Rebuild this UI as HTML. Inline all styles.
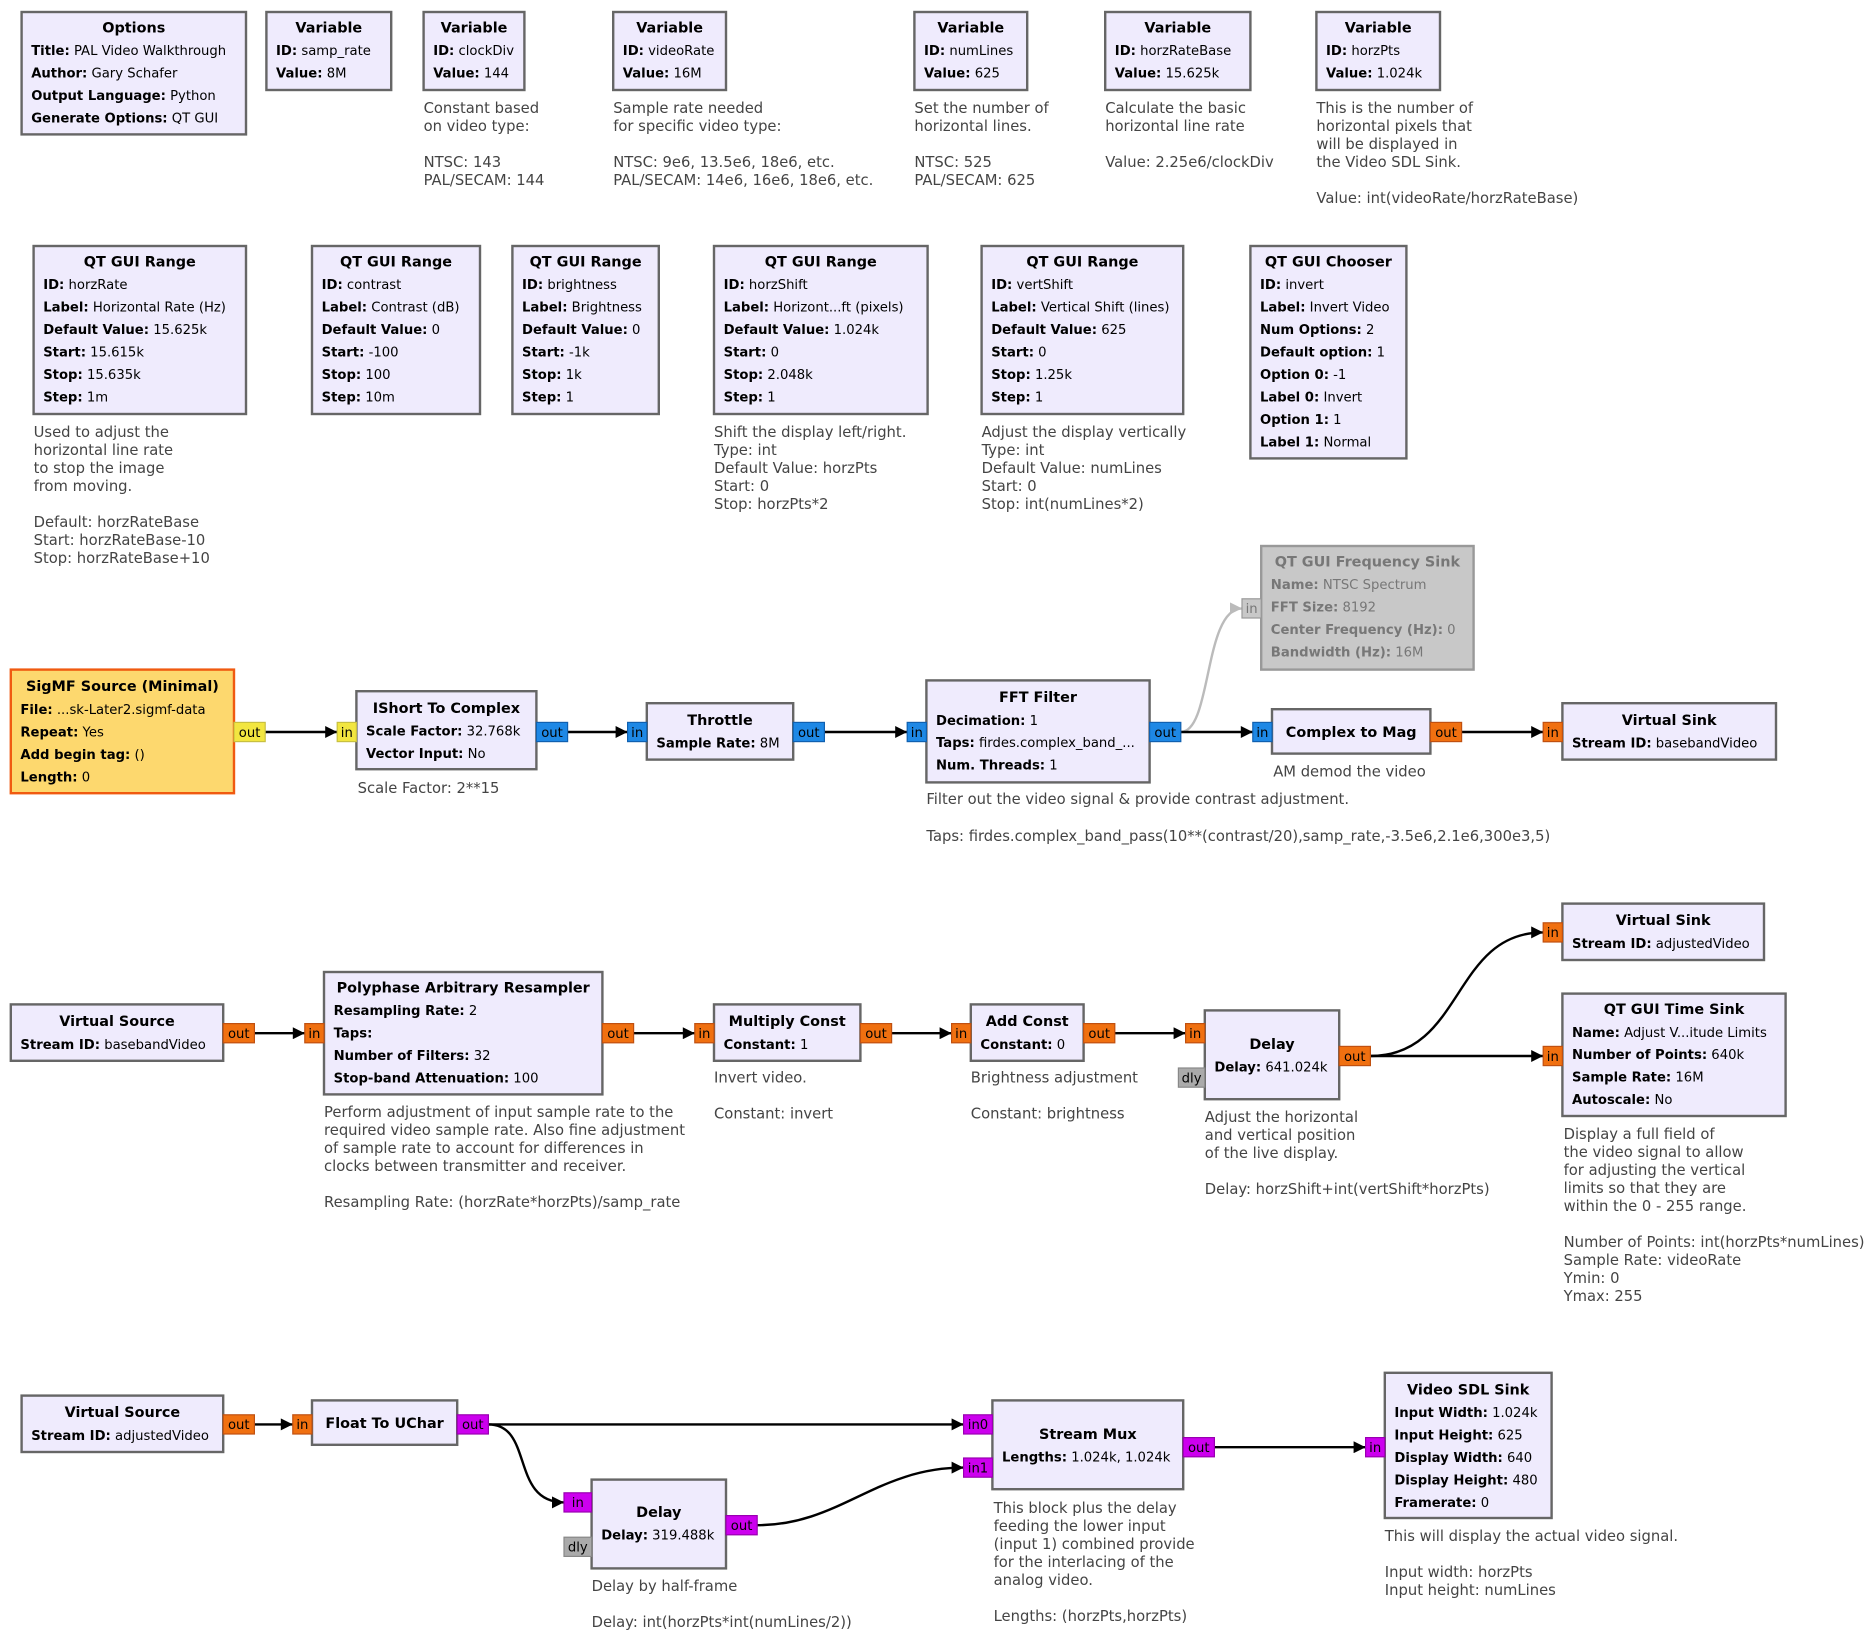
<!DOCTYPE html>
<html><head><meta charset="utf-8"><style>
html,body{margin:0;padding:0;background:#fff;}
svg{display:block;}
text{font-family:"DejaVu Sans","Liberation Sans",sans-serif;font-size:11px;fill:#000;}
.t{font-weight:bold;font-size:12px;text-anchor:middle;}
.b{font-weight:bold;}
.c{fill:#444;font-size:12.3px;}
.bx{fill:#efebfd;stroke:#666;stroke-width:2;}
.p{text-anchor:middle;font-size:11px;}
.w{stroke:#000;stroke-width:2;fill:none;}
.g text{fill:#777;}
</style></head><body>
<svg width="1872" height="1636" viewBox="0 0 1560 1363.33" xmlns="http://www.w3.org/2000/svg">
<defs>
<marker id="a" viewBox="0 0 10 10" refX="10" refY="5" markerWidth="11" markerHeight="10" markerUnits="userSpaceOnUse" orient="auto"><path d="M0,0L10,5L0,10z" fill="#000"/></marker>
<marker id="ag" viewBox="0 0 10 10" refX="10" refY="5" markerWidth="11" markerHeight="10" markerUnits="userSpaceOnUse" orient="auto"><path d="M0,0L10,5L0,10z" fill="#bbb"/></marker>
</defs>
<style>.w{marker-end:url(#a);} </style>

<!-- Options -->
<rect class="bx" x="18" y="10" width="187" height="102"/>
<text class="t" x="111.5" y="27">Options</text>
<text x="26" y="46"><tspan class="b">Title:</tspan> PAL Video Walkthrough</text>
<text x="26" y="64.7"><tspan class="b">Author:</tspan> Gary Schafer</text>
<text x="26" y="83.4"><tspan class="b">Output Language:</tspan> Python</text>
<text x="26" y="102"><tspan class="b">Generate Options:</tspan> QT GUI</text>

<rect class="bx" x="222" y="10" width="104" height="65"/>
<text class="t" x="274" y="27">Variable</text>
<text x="230" y="46"><tspan class="b">ID:</tspan> samp_rate</text>
<text x="230" y="64.7"><tspan class="b">Value:</tspan> 8M</text>

<rect class="bx" x="353" y="10" width="84" height="65"/>
<text class="t" x="395" y="27">Variable</text>
<text x="361" y="46"><tspan class="b">ID:</tspan> clockDiv</text>
<text x="361" y="64.7"><tspan class="b">Value:</tspan> 144</text>
<text class="c" x="353" y="94">Constant based</text>
<text class="c" x="353" y="109">on video type:</text>
<text class="c" x="353" y="139">NTSC: 143</text>
<text class="c" x="353" y="154">PAL/SECAM: 144</text>

<rect class="bx" x="511" y="10" width="94" height="65"/>
<text class="t" x="558" y="27">Variable</text>
<text x="519" y="46"><tspan class="b">ID:</tspan> videoRate</text>
<text x="519" y="64.7"><tspan class="b">Value:</tspan> 16M</text>
<text class="c" x="511" y="94">Sample rate needed</text>
<text class="c" x="511" y="109">for specific video type:</text>
<text class="c" x="511" y="139">NTSC: 9e6, 13.5e6, 18e6, etc.</text>
<text class="c" x="511" y="154">PAL/SECAM: 14e6, 16e6, 18e6, etc.</text>

<rect class="bx" x="762" y="10" width="94" height="65"/>
<text class="t" x="809" y="27">Variable</text>
<text x="770" y="46"><tspan class="b">ID:</tspan> numLines</text>
<text x="770" y="64.7"><tspan class="b">Value:</tspan> 625</text>
<text class="c" x="762" y="94">Set the number of</text>
<text class="c" x="762" y="109">horizontal lines.</text>
<text class="c" x="762" y="139">NTSC: 525</text>
<text class="c" x="762" y="154">PAL/SECAM: 625</text>

<rect class="bx" x="921" y="10" width="121" height="65"/>
<text class="t" x="981.5" y="27">Variable</text>
<text x="929" y="46"><tspan class="b">ID:</tspan> horzRateBase</text>
<text x="929" y="64.7"><tspan class="b">Value:</tspan> 15.625k</text>
<text class="c" x="921" y="94">Calculate the basic</text>
<text class="c" x="921" y="109">horizontal line rate</text>
<text class="c" x="921" y="139">Value: 2.25e6/clockDiv</text>

<rect class="bx" x="1097" y="10" width="103" height="65"/>
<text class="t" x="1148.5" y="27">Variable</text>
<text x="1105" y="46"><tspan class="b">ID:</tspan> horzPts</text>
<text x="1105" y="64.7"><tspan class="b">Value:</tspan> 1.024k</text>
<text class="c" x="1097" y="94">This is the number of</text>
<text class="c" x="1097" y="109">horizontal pixels that</text>
<text class="c" x="1097" y="124">will be displayed in</text>
<text class="c" x="1097" y="139">the Video SDL Sink.</text>
<text class="c" x="1097" y="169">Value: int(videoRate/horzRateBase)</text>

<!-- QT GUI Range row -->
<rect class="bx" x="28" y="205" width="177" height="140"/>
<text class="t" x="116.5" y="222">QT GUI Range</text>
<text x="36" y="241"><tspan class="b">ID:</tspan> horzRate</text>
<text x="36" y="259.7"><tspan class="b">Label:</tspan> Horizontal Rate (Hz)</text>
<text x="36" y="278.4"><tspan class="b">Default Value:</tspan> 15.625k</text>
<text x="36" y="297.1"><tspan class="b">Start:</tspan> 15.615k</text>
<text x="36" y="315.8"><tspan class="b">Stop:</tspan> 15.635k</text>
<text x="36" y="334.5"><tspan class="b">Step:</tspan> 1m</text>
<text class="c" x="28" y="364">Used to adjust the</text>
<text class="c" x="28" y="379">horizontal line rate</text>
<text class="c" x="28" y="394">to stop the image</text>
<text class="c" x="28" y="409">from moving.</text>
<text class="c" x="28" y="439">Default: horzRateBase</text>
<text class="c" x="28" y="454">Start: horzRateBase-10</text>
<text class="c" x="28" y="469">Stop: horzRateBase+10</text>

<rect class="bx" x="260" y="205" width="140" height="140"/>
<text class="t" x="330" y="222">QT GUI Range</text>
<text x="268" y="241"><tspan class="b">ID:</tspan> contrast</text>
<text x="268" y="259.7"><tspan class="b">Label:</tspan> Contrast (dB)</text>
<text x="268" y="278.4"><tspan class="b">Default Value:</tspan> 0</text>
<text x="268" y="297.1"><tspan class="b">Start:</tspan> -100</text>
<text x="268" y="315.8"><tspan class="b">Stop:</tspan> 100</text>
<text x="268" y="334.5"><tspan class="b">Step:</tspan> 10m</text>

<rect class="bx" x="427" y="205" width="122" height="140"/>
<text class="t" x="488" y="222">QT GUI Range</text>
<text x="435" y="241"><tspan class="b">ID:</tspan> brightness</text>
<text x="435" y="259.7"><tspan class="b">Label:</tspan> Brightness</text>
<text x="435" y="278.4"><tspan class="b">Default Value:</tspan> 0</text>
<text x="435" y="297.1"><tspan class="b">Start:</tspan> -1k</text>
<text x="435" y="315.8"><tspan class="b">Stop:</tspan> 1k</text>
<text x="435" y="334.5"><tspan class="b">Step:</tspan> 1</text>

<rect class="bx" x="595" y="205" width="178" height="140"/>
<text class="t" x="684" y="222">QT GUI Range</text>
<text x="603" y="241"><tspan class="b">ID:</tspan> horzShift</text>
<text x="603" y="259.7"><tspan class="b">Label:</tspan> Horizont...ft (pixels)</text>
<text x="603" y="278.4"><tspan class="b">Default Value:</tspan> 1.024k</text>
<text x="603" y="297.1"><tspan class="b">Start:</tspan> 0</text>
<text x="603" y="315.8"><tspan class="b">Stop:</tspan> 2.048k</text>
<text x="603" y="334.5"><tspan class="b">Step:</tspan> 1</text>
<text class="c" x="595" y="364">Shift the display left/right.</text>
<text class="c" x="595" y="379">Type: int</text>
<text class="c" x="595" y="394">Default Value: horzPts</text>
<text class="c" x="595" y="409">Start: 0</text>
<text class="c" x="595" y="424">Stop: horzPts*2</text>

<rect class="bx" x="818" y="205" width="168" height="140"/>
<text class="t" x="902" y="222">QT GUI Range</text>
<text x="826" y="241"><tspan class="b">ID:</tspan> vertShift</text>
<text x="826" y="259.7"><tspan class="b">Label:</tspan> Vertical Shift (lines)</text>
<text x="826" y="278.4"><tspan class="b">Default Value:</tspan> 625</text>
<text x="826" y="297.1"><tspan class="b">Start:</tspan> 0</text>
<text x="826" y="315.8"><tspan class="b">Stop:</tspan> 1.25k</text>
<text x="826" y="334.5"><tspan class="b">Step:</tspan> 1</text>
<text class="c" x="818" y="364">Adjust the display vertically</text>
<text class="c" x="818" y="379">Type: int</text>
<text class="c" x="818" y="394">Default Value: numLines</text>
<text class="c" x="818" y="409">Start: 0</text>
<text class="c" x="818" y="424">Stop: int(numLines*2)</text>

<rect class="bx" x="1042" y="205" width="130" height="177"/>
<text class="t" x="1107" y="222">QT GUI Chooser</text>
<text x="1050" y="241"><tspan class="b">ID:</tspan> invert</text>
<text x="1050" y="259.7"><tspan class="b">Label:</tspan> Invert Video</text>
<text x="1050" y="278.4"><tspan class="b">Num Options:</tspan> 2</text>
<text x="1050" y="297.1"><tspan class="b">Default option:</tspan> 1</text>
<text x="1050" y="315.8"><tspan class="b">Option 0:</tspan> -1</text>
<text x="1050" y="334.5"><tspan class="b">Label 0:</tspan> Invert</text>
<text x="1050" y="353.2"><tspan class="b">Option 1:</tspan> 1</text>
<text x="1050" y="371.9"><tspan class="b">Label 1:</tspan> Normal</text>

<!-- Frequency sink (disabled) -->
<path d="M984,610 C1010,610 1003,507 1035,507" stroke="#bbb" stroke-width="2" fill="none" marker-end="url(#ag)"/>
<g class="g">
<rect x="1051" y="455" width="177" height="103" fill="#c8c8c8" stroke="#999" stroke-width="2"/>
<text class="t" x="1139.5" y="472">QT GUI Frequency Sink</text>
<text x="1059" y="491"><tspan class="b">Name:</tspan> NTSC Spectrum</text>
<text x="1059" y="509.7"><tspan class="b">FFT Size:</tspan> 8192</text>
<text x="1059" y="528.4"><tspan class="b">Center Frequency (Hz):</tspan> 0</text>
<text x="1059" y="547.1"><tspan class="b">Bandwidth (Hz):</tspan> 16M</text>
<rect x="1035" y="499" width="16" height="16" fill="#c8c8c8" stroke="#999" stroke-width="1"/>
<text class="p" x="1043" y="511">in</text>
</g>

<!-- Row 1 connections -->
<line class="w" x1="221" y1="610" x2="281" y2="610"/>
<line class="w" x1="473" y1="610" x2="523" y2="610"/>
<line class="w" x1="687" y1="610" x2="756" y2="610"/>
<line class="w" x1="984" y1="610" x2="1044" y2="610"/>
<line class="w" x1="1218" y1="610" x2="1286" y2="610"/>

<!-- SigMF -->
<rect x="9" y="558" width="186" height="103" fill="#fdd86e" stroke="#f05a10" stroke-width="2"/>
<text class="t" x="102" y="576">SigMF Source (Minimal)</text>
<text x="17" y="595"><tspan class="b">File:</tspan> ...sk-Later2.sigmf-data</text>
<text x="17" y="613.7"><tspan class="b">Repeat:</tspan> Yes</text>
<text x="17" y="632.4"><tspan class="b">Add begin tag:</tspan> ()</text>
<text x="17" y="651.1"><tspan class="b">Length:</tspan> 0</text>
<rect x="195" y="602" width="26" height="16" fill="#f2e640" stroke="#c8c040"/>
<text class="p" x="208" y="614">out</text>

<rect class="bx" x="297" y="576" width="150" height="65"/>
<text class="t" x="372" y="594">IShort To Complex</text>
<text x="305" y="613"><tspan class="b">Scale Factor:</tspan> 32.768k</text>
<text x="305" y="631.7"><tspan class="b">Vector Input:</tspan> No</text>
<rect x="281" y="602" width="16" height="16" fill="#f2e640" stroke="#c8c040"/>
<text class="p" x="289" y="614">in</text>
<rect x="447" y="602" width="26" height="16" fill="#1e88e5" stroke="#1060b0"/>
<text class="p" x="460" y="614">out</text>
<text class="c" x="298" y="661">Scale Factor: 2**15</text>

<rect class="bx" x="539" y="586" width="122" height="47"/>
<text class="t" x="600" y="604">Throttle</text>
<text x="547" y="623"><tspan class="b">Sample Rate:</tspan> 8M</text>
<rect x="523" y="602" width="16" height="16" fill="#1e88e5" stroke="#1060b0"/>
<text class="p" x="531" y="614">in</text>
<rect x="661" y="602" width="26" height="16" fill="#1e88e5" stroke="#1060b0"/>
<text class="p" x="674" y="614">out</text>

<rect class="bx" x="772" y="567" width="186" height="85"/>
<text class="t" x="865" y="585">FFT Filter</text>
<text x="780" y="604"><tspan class="b">Decimation:</tspan> 1</text>
<text x="780" y="622.7"><tspan class="b">Taps:</tspan> firdes.complex_band_...</text>
<text x="780" y="641.4"><tspan class="b">Num. Threads:</tspan> 1</text>
<rect x="756" y="602" width="16" height="16" fill="#1e88e5" stroke="#1060b0"/>
<text class="p" x="764" y="614">in</text>
<rect x="958" y="602" width="26" height="16" fill="#1e88e5" stroke="#1060b0"/>
<text class="p" x="971" y="614">out</text>
<text class="c" x="772" y="670">Filter out the video signal &amp; provide contrast adjustment.</text>
<text class="c" x="772" y="701">Taps: firdes.complex_band_pass(10**(contrast/20),samp_rate,-3.5e6,2.1e6,300e3,5)</text>

<rect class="bx" x="1060" y="591" width="132" height="37"/>
<text class="t" x="1126" y="614">Complex to Mag</text>
<rect x="1044" y="602" width="16" height="16" fill="#1e88e5" stroke="#1060b0"/>
<text class="p" x="1052" y="614">in</text>
<rect x="1192" y="602" width="26" height="16" fill="#f07010" stroke="#c05010"/>
<text class="p" x="1205" y="614">out</text>
<text class="c" x="1061" y="647">AM demod the video</text>

<rect class="bx" x="1302" y="586" width="178" height="47"/>
<text class="t" x="1391" y="604">Virtual Sink</text>
<text x="1310" y="623"><tspan class="b">Stream ID:</tspan> basebandVideo</text>
<rect x="1286" y="602" width="16" height="16" fill="#f07010" stroke="#c05010"/>
<text class="p" x="1294" y="614">in</text>

<!-- Row 2 connections -->
<line class="w" x1="212" y1="861" x2="254" y2="861"/>
<line class="w" x1="528" y1="861" x2="579" y2="861"/>
<line class="w" x1="743" y1="861" x2="793" y2="861"/>
<line class="w" x1="929" y1="861" x2="988" y2="861"/>
<path class="w" d="M1142,880 C1220,880 1210,777 1286,777"/>
<line class="w" x1="1142" y1="880" x2="1286" y2="880"/>

<rect class="bx" x="9" y="837" width="177" height="47"/>
<text class="t" x="97.5" y="855">Virtual Source</text>
<text x="17" y="874"><tspan class="b">Stream ID:</tspan> basebandVideo</text>
<rect x="186" y="853" width="26" height="16" fill="#f07010" stroke="#c05010"/>
<text class="p" x="199" y="865">out</text>

<rect class="bx" x="270" y="810" width="232" height="102"/>
<text class="t" x="386" y="827">Polyphase Arbitrary Resampler</text>
<text x="278" y="846"><tspan class="b">Resampling Rate:</tspan> 2</text>
<text x="278" y="864.7"><tspan class="b">Taps:</tspan></text>
<text x="278" y="883.4"><tspan class="b">Number of Filters:</tspan> 32</text>
<text x="278" y="902.1"><tspan class="b">Stop-band Attenuation:</tspan> 100</text>
<rect x="254" y="853" width="16" height="16" fill="#f07010" stroke="#c05010"/>
<text class="p" x="262" y="865">in</text>
<rect x="502" y="853" width="26" height="16" fill="#f07010" stroke="#c05010"/>
<text class="p" x="515" y="865">out</text>
<text class="c" x="270" y="931">Perform adjustment of input sample rate to the</text>
<text class="c" x="270" y="946">required video sample rate. Also fine adjustment</text>
<text class="c" x="270" y="961">of sample rate to account for differences in</text>
<text class="c" x="270" y="976">clocks between transmitter and receiver.</text>
<text class="c" x="270" y="1006">Resampling Rate: (horzRate*horzPts)/samp_rate</text>

<rect class="bx" x="595" y="837" width="122" height="47"/>
<text class="t" x="656" y="855">Multiply Const</text>
<text x="603" y="874"><tspan class="b">Constant:</tspan> 1</text>
<rect x="579" y="853" width="16" height="16" fill="#f07010" stroke="#c05010"/>
<text class="p" x="587" y="865">in</text>
<rect x="717" y="853" width="26" height="16" fill="#f07010" stroke="#c05010"/>
<text class="p" x="730" y="865">out</text>
<text class="c" x="595" y="902">Invert video.</text>
<text class="c" x="595" y="932">Constant: invert</text>

<rect class="bx" x="809" y="837" width="94" height="47"/>
<text class="t" x="856" y="855">Add Const</text>
<text x="817" y="874"><tspan class="b">Constant:</tspan> 0</text>
<rect x="793" y="853" width="16" height="16" fill="#f07010" stroke="#c05010"/>
<text class="p" x="801" y="865">in</text>
<rect x="903" y="853" width="26" height="16" fill="#f07010" stroke="#c05010"/>
<text class="p" x="916" y="865">out</text>
<text class="c" x="809" y="902">Brightness adjustment</text>
<text class="c" x="809" y="932">Constant: brightness</text>

<rect class="bx" x="1004" y="842" width="112" height="74"/>
<text class="t" x="1060" y="874">Delay</text>
<text x="1012" y="893"><tspan class="b">Delay:</tspan> 641.024k</text>
<rect x="988" y="853" width="16" height="16" fill="#f07010" stroke="#c05010"/>
<text class="p" x="996" y="865">in</text>
<rect x="982" y="890" width="22" height="16" fill="#aaa" stroke="#888"/>
<text class="p" x="993" y="902">dly</text>
<rect x="1116" y="872" width="26" height="16" fill="#f07010" stroke="#c05010"/>
<text class="p" x="1129" y="884">out</text>
<text class="c" x="1004" y="935">Adjust the horizontal</text>
<text class="c" x="1004" y="950">and vertical position</text>
<text class="c" x="1004" y="965">of the live display.</text>
<text class="c" x="1004" y="995">Delay: horzShift+int(vertShift*horzPts)</text>

<rect class="bx" x="1302" y="753" width="168" height="47"/>
<text class="t" x="1386" y="771">Virtual Sink</text>
<text x="1310" y="790"><tspan class="b">Stream ID:</tspan> adjustedVideo</text>
<rect x="1286" y="769" width="16" height="16" fill="#f07010" stroke="#c05010"/>
<text class="p" x="1294" y="781">in</text>

<rect class="bx" x="1302" y="828" width="186" height="102"/>
<text class="t" x="1395" y="845">QT GUI Time Sink</text>
<text x="1310" y="864"><tspan class="b">Name:</tspan> Adjust V...itude Limits</text>
<text x="1310" y="882.7"><tspan class="b">Number of Points:</tspan> 640k</text>
<text x="1310" y="901.4"><tspan class="b">Sample Rate:</tspan> 16M</text>
<text x="1310" y="920.1"><tspan class="b">Autoscale:</tspan> No</text>
<rect x="1286" y="872" width="16" height="16" fill="#f07010" stroke="#c05010"/>
<text class="p" x="1294" y="884">in</text>
<text class="c" x="1303" y="949">Display a full field of</text>
<text class="c" x="1303" y="964">the video signal to allow</text>
<text class="c" x="1303" y="979">for adjusting the vertical</text>
<text class="c" x="1303" y="994">limits so that they are</text>
<text class="c" x="1303" y="1009">within the 0 - 255 range.</text>
<text class="c" x="1303" y="1039">Number of Points: int(horzPts*numLines)</text>
<text class="c" x="1303" y="1054">Sample Rate: videoRate</text>
<text class="c" x="1303" y="1069">Ymin: 0</text>
<text class="c" x="1303" y="1084">Ymax: 255</text>

<!-- Row 3 connections -->
<line class="w" x1="212" y1="1187" x2="244" y2="1187"/>
<line class="w" x1="407" y1="1187" x2="803" y2="1187"/>
<path class="w" d="M407,1187 C445,1187 425,1252 470,1252"/>
<path class="w" d="M631,1271 C700,1271 730,1223 803,1223"/>
<line class="w" x1="1012" y1="1206" x2="1138" y2="1206"/>

<rect class="bx" x="18" y="1163" width="168" height="47"/>
<text class="t" x="102" y="1181">Virtual Source</text>
<text x="26" y="1200"><tspan class="b">Stream ID:</tspan> adjustedVideo</text>
<rect x="186" y="1179" width="26" height="16" fill="#f07010" stroke="#c05010"/>
<text class="p" x="199" y="1191">out</text>

<rect class="bx" x="260" y="1167" width="121" height="37"/>
<text class="t" x="320.5" y="1190">Float To UChar</text>
<rect x="244" y="1179" width="16" height="16" fill="#f07010" stroke="#c05010"/>
<text class="p" x="252" y="1191">in</text>
<rect x="381" y="1179" width="26" height="16" fill="#cc00ee" stroke="#9900b0"/>
<text class="p" x="394" y="1191">out</text>

<rect class="bx" x="493" y="1233" width="112" height="74"/>
<text class="t" x="549" y="1264">Delay</text>
<text x="501" y="1283"><tspan class="b">Delay:</tspan> 319.488k</text>
<rect x="470" y="1244" width="23" height="16" fill="#cc00ee" stroke="#9900b0"/>
<text class="p" x="481.5" y="1256">in</text>
<rect x="470" y="1281" width="23" height="16" fill="#aaa" stroke="#888"/>
<text class="p" x="481.5" y="1293">dly</text>
<rect x="605" y="1263" width="26" height="16" fill="#cc00ee" stroke="#9900b0"/>
<text class="p" x="618" y="1275">out</text>
<text class="c" x="493" y="1326">Delay by half-frame</text>
<text class="c" x="493" y="1356">Delay: int(horzPts*int(numLines/2))</text>

<rect class="bx" x="827" y="1167" width="159" height="74"/>
<text class="t" x="906.5" y="1199">Stream Mux</text>
<text x="835" y="1218"><tspan class="b">Lengths:</tspan> 1.024k, 1.024k</text>
<rect x="803" y="1179" width="24" height="16" fill="#cc00ee" stroke="#9900b0"/>
<text class="p" x="815" y="1191">in0</text>
<rect x="803" y="1215" width="24" height="16" fill="#cc00ee" stroke="#9900b0"/>
<text class="p" x="815" y="1227">in1</text>
<rect x="986" y="1198" width="26" height="16" fill="#cc00ee" stroke="#9900b0"/>
<text class="p" x="999" y="1210">out</text>
<text class="c" x="828" y="1261">This block plus the delay</text>
<text class="c" x="828" y="1276">feeding the lower input</text>
<text class="c" x="828" y="1291">(input 1) combined provide</text>
<text class="c" x="828" y="1306">for the interlacing of the</text>
<text class="c" x="828" y="1321">analog video.</text>
<text class="c" x="828" y="1351">Lengths: (horzPts,horzPts)</text>

<rect class="bx" x="1154" y="1144" width="139" height="121"/>
<text class="t" x="1223.5" y="1162">Video SDL Sink</text>
<text x="1162" y="1181"><tspan class="b">Input Width:</tspan> 1.024k</text>
<text x="1162" y="1199.7"><tspan class="b">Input Height:</tspan> 625</text>
<text x="1162" y="1218.4"><tspan class="b">Display Width:</tspan> 640</text>
<text x="1162" y="1237.1"><tspan class="b">Display Height:</tspan> 480</text>
<text x="1162" y="1255.8"><tspan class="b">Framerate:</tspan> 0</text>
<rect x="1138" y="1198" width="16" height="16" fill="#cc00ee" stroke="#9900b0"/>
<text class="p" x="1146" y="1210">in</text>
<text class="c" x="1154" y="1284">This will display the actual video signal.</text>
<text class="c" x="1154" y="1314">Input width: horzPts</text>
<text class="c" x="1154" y="1329">Input height: numLines</text>
</svg>
</body></html>
